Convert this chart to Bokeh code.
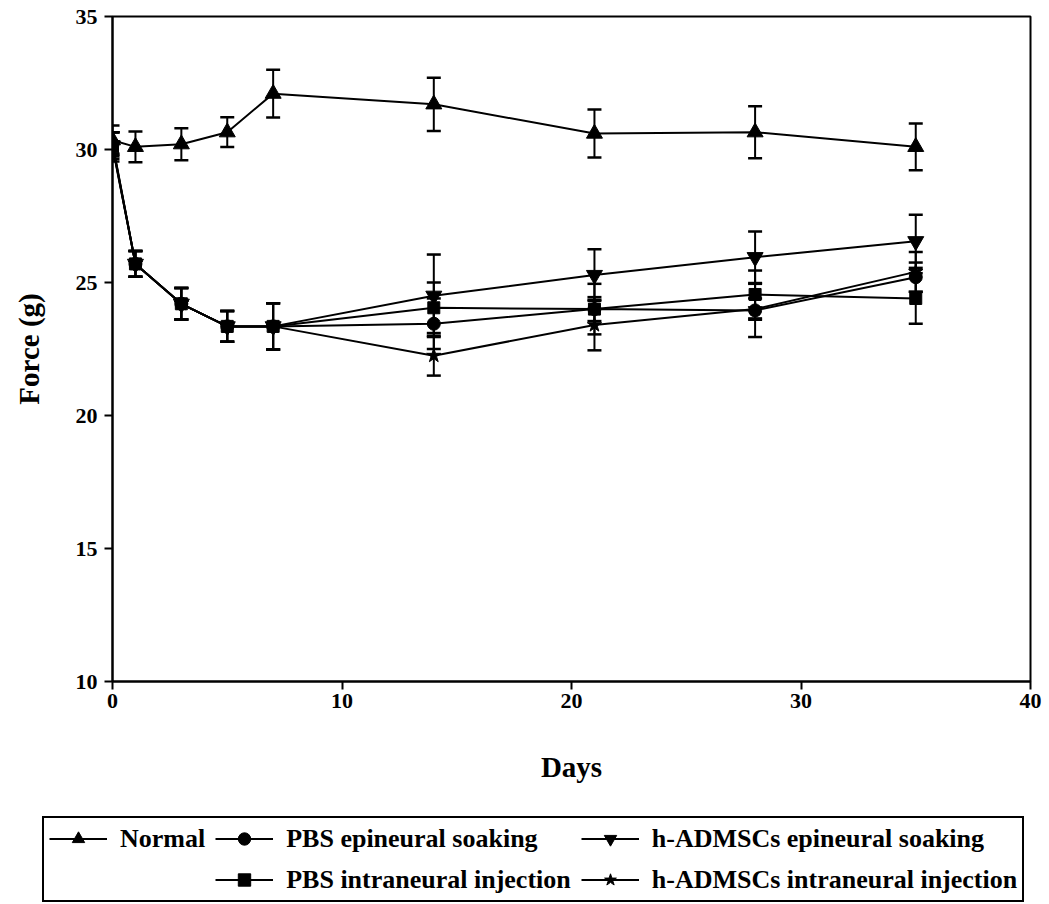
from bokeh.plotting import figure
from bokeh.models import (Range1d, Whisker, TeeHead, ColumnDataSource, Legend,
                          LegendItem, FixedTicker)
from bokeh.layouts import column
from bokeh.embed import file_html
from bokeh.resources import INLINE

days = [0, 1, 3, 5, 7, 14, 21, 28, 35]

normal = [30.35, 30.1, 30.2, 30.65, 32.1, 31.7, 30.6, 30.65, 30.1]
normal_err = [0.55, 0.58, 0.6, 0.56, 0.9, 1.0, 0.9, 0.98, 0.88]

pbs_epi = [30.2, 25.7, 24.2, 23.35, 23.35, 23.45, 24.0, 23.95, 25.2]
pbs_epi_err = [0.45, 0.48, 0.59, 0.58, 0.87, 0.95, 0.45, 1.0, 0.55]

adm_epi = [30.15, 25.7, 24.2, 23.35, 23.35, 24.5, 25.28, 25.95, 26.55]
adm_epi_err = [0.5, 0.48, 0.59, 0.58, 0.87, 1.55, 0.97, 0.97, 1.0]

pbs_intra = [30.1, 25.7, 24.2, 23.35, 23.35, 24.05, 24.0, 24.55, 24.4]
pbs_intra_err = [0.55, 0.48, 0.59, 0.58, 0.87, 0.95, 0.95, 0.9, 0.95]

adm_intra = [30.25, 25.7, 24.2, 23.35, 23.35, 22.25, 23.4, 24.0, 25.4]
adm_intra_err = [0.4, 0.48, 0.59, 0.58, 0.87, 0.75, 0.95, 0.4, 0.75]

series = [
    ("Normal", normal, normal_err, "triangle", 16),
    ("PBS epineural soaking", pbs_epi, pbs_epi_err, "circle", 13),
    ("h-ADMSCs epineural soaking", adm_epi, adm_epi_err, "inverted_triangle", 16),
    ("PBS intraneural injection", pbs_intra, pbs_intra_err, "square", 12),
    ("h-ADMSCs intraneural injection", adm_intra, adm_intra_err, "star", 15),
]

FONT = "Liberation Serif"

p = figure(width=1049, height=800, x_range=Range1d(0, 40), y_range=Range1d(10, 35),
           output_backend="svg", toolbar_location=None,
           min_border_left=112, min_border_right=19, min_border_top=16,
           min_border_bottom=119)
p.frame_align = False
p.grid.visible = False
p.outline_line_color = "black"
p.outline_line_width = 2
p.background_fill_color = "white"
p.border_fill_color = "white"

p.xaxis.ticker = FixedTicker(ticks=[0, 10, 20, 30, 40])
p.yaxis.ticker = FixedTicker(ticks=[10, 15, 20, 25, 30, 35])
for ax in (p.xaxis, p.yaxis):
    ax.axis_line_width = 2
    ax.major_tick_line_width = 2
    ax.major_tick_out = 8
    ax.major_tick_in = 0
    ax.minor_tick_out = 0
    ax.minor_tick_in = 0
    ax.major_label_text_font = FONT
    ax.major_label_text_font_style = "bold"
    ax.major_label_text_font_size = "22px"
    ax.major_label_text_color = "black"
    ax.axis_label_text_font = FONT
    ax.axis_label_text_font_style = "bold"
    ax.axis_label_text_font_size = "29px"
    ax.axis_label_text_color = "black"
p.xaxis.axis_label = "Days"
p.yaxis.axis_label = "Force (g)"
p.xaxis.major_label_standoff = 4
p.yaxis.major_label_standoff = 7
p.xaxis.axis_label_standoff = 40
p.yaxis.axis_label_standoff = 28

for name, vals, errs, marker, size in series:
    src = ColumnDataSource(dict(
        x=days, y=vals,
        upper=[v + e for v, e in zip(vals, errs)],
        lower=[v - e for v, e in zip(vals, errs)],
    ))
    w = Whisker(source=src, base="x", upper="upper", lower="lower", dimension="height",
                line_color="black", line_width=2,
                upper_head=TeeHead(size=14, line_width=2.5, line_color="black"),
                lower_head=TeeHead(size=14, line_width=2.5, line_color="black"))
    p.add_layout(w)
    p.line("x", "y", source=src, line_color="black", line_width=2)
    p.scatter("x", "y", source=src, marker=marker, size=size,
              fill_color="black", line_color="black")

# legend panel underneath the chart
lg = figure(width=1049, height=104, x_range=Range1d(0, 1), y_range=Range1d(0, 1),
            output_backend="svg", toolbar_location=None,
            x_axis_location=None, y_axis_location=None,
            min_border=0, min_border_left=0, min_border_right=0,
            min_border_top=0, min_border_bottom=0)
lg.frame_align = False
lg.grid.visible = False
lg.outline_line_color = None
lg.background_fill_color = "white"
lg.border_fill_color = "white"

NAN = float("nan")
items = []
for name, vals, errs, marker, size in series:
    lr = lg.line(x=[NAN, NAN], y=[NAN, NAN], line_color="black", line_width=2)
    sr = lg.scatter(x=[NAN], y=[NAN], marker=marker, size=size,
                    fill_color="black", line_color="black")
    items.append(LegendItem(label=name, renderers=[lr, sr]))
dummy = lg.scatter(x=[NAN], y=[NAN], fill_alpha=0, line_alpha=0)
blank = LegendItem(label=" ", renderers=[dummy])

legend_items = [items[0], items[1], items[2], blank, items[3], items[4]]
legend = Legend(items=legend_items, orientation="horizontal", ncols=3,
                location=(42, 2), margin=0,
                glyph_width=58, glyph_height=31, label_height=31,
                label_standoff=13, spacing=10, padding=5,
                label_text_font=FONT, label_text_font_style="bold",
                label_text_font_size="26px", label_text_color="black",
                border_line_color="black", border_line_width=2,
                border_line_alpha=1.0,
                background_fill_alpha=1, click_policy="none")
lg.add_layout(legend)

layout = column(p, lg, spacing=0)
open("out.html", "w").write(file_html(layout, INLINE))
